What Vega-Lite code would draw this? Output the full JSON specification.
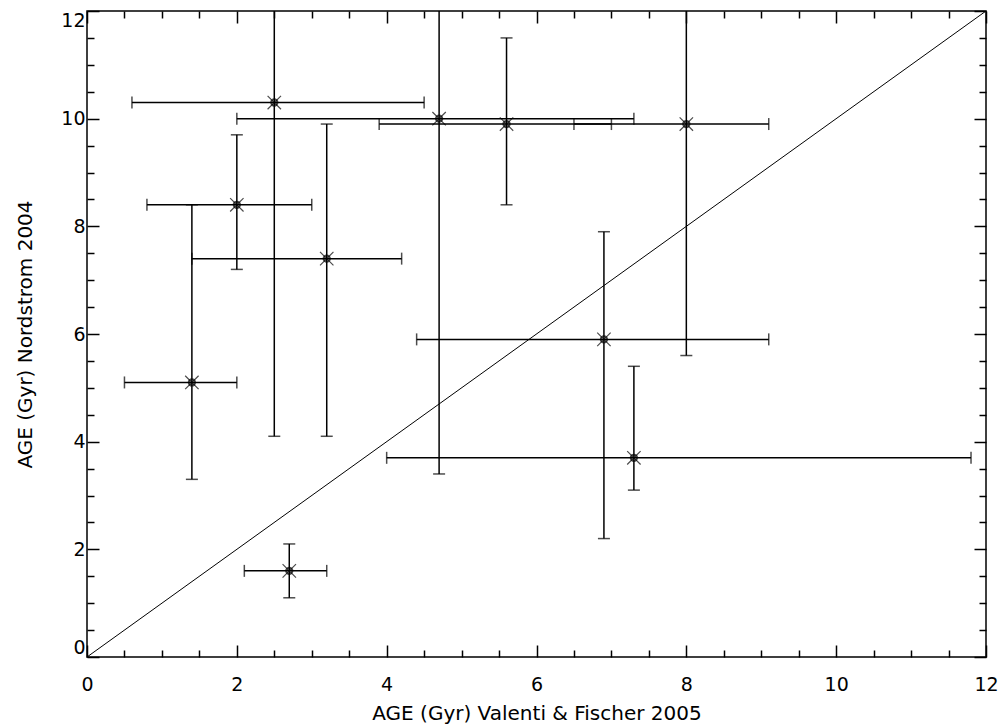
{
  "$schema": "https://vega.github.io/schema/vega-lite/v6.json",
  "width": 899,
  "height": 646,
  "autosize": "none",
  "padding": {"left": 87, "top": 11, "right": 19, "bottom": 71},
  "background": "white",
  "config": {
    "view": {"stroke": "black", "strokeWidth": 1.5},
    "axis": {
      "domain": false,
      "grid": false,
      "tickColor": "black",
      "tickWidth": 1.5,
      "labelColor": "black",
      "labelFont": "DejaVu Sans",
      "labelFontSize": 19,
      "titleFont": "DejaVu Sans",
      "titleFontSize": 20,
      "titleFontWeight": "normal",
      "titleColor": "black"
    }
  },
  "datasets": {
    "pts": [
      {"x": 2.5, "y": 10.3, "xlo": 0.6, "xhi": 4.5, "ylo": 4.1, "yhi": 16.5},
      {"x": 4.7, "y": 10.0, "xlo": 2.0, "xhi": 7.3, "ylo": 3.4, "yhi": 16.6},
      {"x": 5.6, "y": 9.9, "xlo": 3.9, "xhi": 7.0, "ylo": 8.4, "yhi": 11.5},
      {"x": 8.0, "y": 9.9, "xlo": 6.5, "xhi": 9.1, "ylo": 5.6, "yhi": 14.2},
      {"x": 2.0, "y": 8.4, "xlo": 0.8, "xhi": 3.0, "ylo": 7.2, "yhi": 9.7},
      {"x": 3.2, "y": 7.4, "xlo": 1.4, "xhi": 4.2, "ylo": 4.1, "yhi": 9.9},
      {"x": 1.4, "y": 5.1, "xlo": 0.5, "xhi": 2.0, "ylo": 3.3, "yhi": 8.4},
      {"x": 6.9, "y": 5.9, "xlo": 4.4, "xhi": 9.1, "ylo": 2.2, "yhi": 7.9},
      {"x": 7.3, "y": 3.7, "xlo": 4.0, "xhi": 11.8, "ylo": 3.1, "yhi": 5.4},
      {"x": 2.7, "y": 1.6, "xlo": 2.1, "xhi": 3.2, "ylo": 1.1, "yhi": 2.1}
    ],
    "diag": [{"x": 0, "y": 0}, {"x": 12, "y": 12}]
  },
  "resolve": {"axis": {"x": "independent", "y": "independent"}},
  "layer": [
    {
      "data": {"name": "diag"},
      "mark": {"type": "line", "color": "black", "strokeWidth": 1, "clip": true},
      "encoding": {
        "x": {"field": "x", "type": "quantitative", "scale": {"domain": [0, 12], "nice": false},
          "axis": {"orient": "bottom", "values": [0,0.5,1,1.5,2,2.5,3,3.5,4,4.5,5,5.5,6,6.5,7,7.5,8,8.5,9,9.5,10,10.5,11,11.5,12],
            "labelExpr": "datum.value % 2 === 0 ? format(datum.value, 'd') : ''",
            "tickSize": {"condition": {"test": "datum.value % 2 === 0", "value": -12}, "value": -7},
            "labelPadding": 30, "labelFlush": false, "labelOverlap": false,
            "title": "AGE (Gyr) Valenti & Fischer 2005", "titlePadding": 4}},
        "y": {"field": "y", "type": "quantitative", "scale": {"domain": [0, 12], "nice": false},
          "axis": {"orient": "left", "values": [0,0.5,1,1.5,2,2.5,3,3.5,4,4.5,5,5.5,6,6.5,7,7.5,8,8.5,9,9.5,10,10.5,11,11.5,12],
            "labelExpr": "datum.value % 2 === 0 ? format(datum.value, 'd') : ''",
            "tickSize": {"condition": {"test": "datum.value % 2 === 0", "value": -12}, "value": -7},
            "labelPadding": 14, "labelFlush": true, "labelOverlap": false,
            "title": "AGE (Gyr) Nordstrom 2004", "titlePadding": 25}}
      }
    },
    {
      "data": {"name": "pts"},
      "mark": {"type": "rule", "color": "black", "strokeWidth": 1.5, "clip": true},
      "encoding": {
        "x": {"field": "xlo", "type": "quantitative", "axis": null},
        "x2": {"field": "xhi"},
        "y": {"field": "y", "type": "quantitative", "axis": null}
      }
    },
    {
      "data": {"name": "pts"},
      "mark": {"type": "rule", "color": "black", "strokeWidth": 1.5, "clip": true},
      "encoding": {
        "x": {"field": "x", "type": "quantitative", "axis": null},
        "y": {"field": "ylo", "type": "quantitative", "axis": null},
        "y2": {"field": "yhi"}
      }
    },
    {
      "data": {"name": "pts"},
      "mark": {"type": "tick", "orient": "vertical", "color": "black", "thickness": 1.5, "size": 12, "clip": true},
      "encoding": {
        "x": {"field": "xlo", "type": "quantitative", "axis": null},
        "y": {"field": "y", "type": "quantitative", "axis": null}
      }
    },
    {
      "data": {"name": "pts"},
      "mark": {"type": "tick", "orient": "vertical", "color": "black", "thickness": 1.5, "size": 12, "clip": true},
      "encoding": {
        "x": {"field": "xhi", "type": "quantitative", "axis": null},
        "y": {"field": "y", "type": "quantitative", "axis": null}
      }
    },
    {
      "data": {"name": "pts"},
      "mark": {"type": "tick", "orient": "horizontal", "color": "black", "thickness": 1.5, "size": 12, "clip": true},
      "encoding": {
        "x": {"field": "x", "type": "quantitative", "axis": null},
        "y": {"field": "ylo", "type": "quantitative", "axis": null}
      }
    },
    {
      "data": {"name": "pts"},
      "mark": {"type": "tick", "orient": "horizontal", "color": "black", "thickness": 1.5, "size": 12, "clip": true},
      "encoding": {
        "x": {"field": "x", "type": "quantitative", "axis": null},
        "y": {"field": "yhi", "type": "quantitative", "axis": null}
      }
    },
    {
      "data": {"name": "pts"},
      "mark": {"type": "point", "shape": "M-1,-1L1,1M-1,1L1,-1", "size": 180, "stroke": "black", "strokeWidth": 1.2, "filled": false},
      "encoding": {
        "x": {"field": "x", "type": "quantitative", "axis": null},
        "y": {"field": "y", "type": "quantitative", "axis": null}
      }
    },
    {
      "data": {"name": "pts"},
      "mark": {"type": "point", "shape": "circle", "size": 40, "stroke": "black", "strokeWidth": 2, "filled": false},
      "encoding": {
        "x": {"field": "x", "type": "quantitative",
          "axis": {"orient": "top", "values": [0,0.5,1,1.5,2,2.5,3,3.5,4,4.5,5,5.5,6,6.5,7,7.5,8,8.5,9,9.5,10,10.5,11,11.5,12],
            "labels": false, "title": null,
            "tickSize": {"condition": {"test": "datum.value % 2 === 0", "value": -12}, "value": -7}}},
        "y": {"field": "y", "type": "quantitative",
          "axis": {"orient": "right", "values": [0,0.5,1,1.5,2,2.5,3,3.5,4,4.5,5,5.5,6,6.5,7,7.5,8,8.5,9,9.5,10,10.5,11,11.5,12],
            "labels": false, "title": null,
            "tickSize": {"condition": {"test": "datum.value % 2 === 0", "value": -12}, "value": -7}}}
      }
    }
  ]
}
